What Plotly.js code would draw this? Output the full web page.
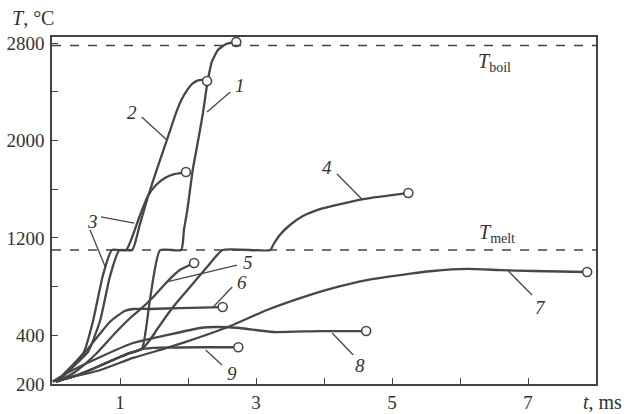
<!DOCTYPE html>
<html><head><meta charset="utf-8">
<script src="https://cdn.plot.ly/plotly-3.0.1.min.js"></script>
<style>html,body{margin:0;padding:0;background:#fff;} #chart{width:626px;height:414px;}</style>
</head><body><div id="chart"></div>
<script>
// time, ms and temperature, °C for curves 1..9
const t1 = [0.06,0.34,0.63,0.93,1.15,1.32,1.44,1.59,1.90,1.94,1.99,2.07,2.15,2.22,2.28,2.35,2.44,2.56,2.71];
const T1 = [20,66,131,205,255,287,690,1100,1100,1265,1429,1758,2004,2226,2456,2645,2743,2793,2809];
const t2 = [0.09,0.29,0.53,0.71,0.85,0.99,1.18,1.29,1.41,1.54,1.69,1.84,1.91,1.99,2.06,2.13,2.21,2.28];
const T2 = [20,131,263,526,879,1100,1100,1306,1536,1758,2004,2251,2341,2415,2464,2490,2497,2489];
const t3 = [0.06,0.26,0.47,0.60,0.75,0.88,1.09,1.19,1.29,1.41,1.53,1.66,1.81,1.97];
const T3 = [20,131,263,509,895,1100,1100,1224,1380,1544,1634,1692,1725,1741];
const t4 = [0.06,0.34,0.63,0.93,1.15,1.32,1.44,1.54,1.78,2.03,2.28,2.51,3.21,3.26,3.35,3.50,3.69,3.94,4.24,4.60,5.24];
const T4 = [20,66,131,205,255,287,361,444,632,797,961,1100,1100,1150,1224,1306,1380,1437,1478,1520,1569];
const t5 = [0.09,0.34,0.63,0.93,1.15,1.29,1.49,1.69,1.88,2.09];
const T5 = [20,99,238,419,542,608,715,838,936,994];
const t6 = [0.06,0.26,0.49,0.63,0.75,0.85,0.96,1.07,1.19,1.44,1.88,2.51];
const T6 = [20,115,263,361,444,509,559,600,616,616,624,632];
const t7 = [0.01,0.71,1.19,1.69,2.18,2.66,3.16,3.65,4.13,4.63,5.12,5.60,6.10,6.59,7.07,7.87];
const T7 = [20,115,214,296,386,485,608,706,788,854,895,928,945,936,928,920];
const t8 = [0.01,0.22,0.71,1.19,1.69,2.18,2.43,2.76,3.25,3.94,4.62];
const T8 = [20,90,222,337,402,460,468,460,427,435,435];
const t9 = [0.06,0.34,0.63,0.93,1.15,1.32,1.60,2.20,2.74];
const T9 = [20,66,131,205,255,287,298,302,302];

const T_boil = 2780;
const T_melt = 1100;

const xTickVals = [1,3,5,7];
const xTickText = ['1','3','5','7'];
const xMinorVals = [2,4,6];
const yTickVals = [0,400,1200,2000,2800];
const yTickText = ['200','400','1200','2000','2800'];
const yMinorVals = [800,1600,2400];

// curve labels: [text, textX, textY, leaderX0, leaderY0, leaderX1, leaderY1]
const labels = [
  ['1', 2.76, 2448, 2.62, 2398, 2.28, 2234],
  ['2', 1.18, 2226, 1.32, 2193, 1.69, 2004],
  ['3', 0.59, 1331, 0.72, 1372, 1.21, 1322],
  ['',  0.59, 1331, 0.56, 1265, 0.79, 953],
  ['4', 4.04, 1782, 4.19, 1725, 4.57, 1511],
  ['5', 2.88, 994, 2.72, 977, 1.69, 838],
  ['6', 2.79, 830, 2.65, 797, 2.37, 632],
  ['7', 7.18, 632, 7.06, 731, 6.71, 928],
  ['8', 4.53, 148, 4.43, 238, 4.12, 419],
  ['9', 2.65, 90, 2.50, 156, 2.26, 279]
];

const ts = [t1,t2,t3,t4,t5,t6,t7,t8,t9];
const Ts = [T1,T2,T3,T4,T5,T6,T7,T8,T9];
const lineColor = '#474747';
const serif = 'Liberation Serif, serif';

const traces = ts.map((tx, i) => ({
  x: tx, y: Ts[i], mode: 'lines', type: 'scatter',
  line: {color: lineColor, width: 2.3, shape: 'spline', smoothing: 0.5},
  hoverinfo: 'skip', showlegend: false
}));
traces.push({
  x: ts.map(a => a[a.length-1]), y: Ts.map(a => a[a.length-1]),
  mode: 'markers', type: 'scatter', showlegend: false, hoverinfo: 'skip',
  marker: {size: 9, color: '#ffffff', line: {color: lineColor, width: 1.6}}
});

const shapes = [
  {type:'line', xref:'paper', x0:0, x1:1, yref:'y', y0:T_boil, y1:T_boil, line:{color:'#444', width:1.6, dash:'dash'}},
  {type:'line', xref:'paper', x0:0, x1:1, yref:'y', y0:T_melt, y1:T_melt, line:{color:'#444', width:1.6, dash:'dash'}}
];
const annotations = [];
labels.forEach(l => {
  shapes.push({type:'line', xref:'x', yref:'y', x0:l[3], y0:l[4], x1:l[5], y1:l[6], line:{color:lineColor, width:1.3}});
  if (l[0]) annotations.push({x:l[1], y:l[2], xref:'x', yref:'y', text:'<i>'+l[0]+'</i>', showarrow:false,
    font:{family:serif, size:19, color:'#333'}});
});
annotations.push({x:6.51, y:2637, xref:'x', yref:'y', text:'<i>T</i><sub>boil</sub>', showarrow:false, font:{family:serif, size:20, color:'#333'}});
annotations.push({x:6.54, y:1240, xref:'x', yref:'y', text:'<i>T</i><sub>melt</sub>', showarrow:false, font:{family:serif, size:20, color:'#333'}});
annotations.push({x:-0.078, y:1.055, xref:'paper', yref:'paper', xanchor:'left', yanchor:'middle', text:'<i>T</i>, °C', showarrow:false, font:{family:serif, size:20, color:'#333'}});
annotations.push({x:0.972, y:-0.052, xref:'paper', yref:'paper', xanchor:'left', yanchor:'middle', text:'<i>t</i>, ms', showarrow:false, font:{family:serif, size:20, color:'#333'}});

const layout = {
  width: 626, height: 414,
  margin: {l:52, r:30, t:37, b:30},
  paper_bgcolor: '#ffffff', plot_bgcolor: '#ffffff',
  font: {family: serif, size: 19, color: '#333'},
  xaxis: {range:[0,8], tickmode:'array', tickvals:xTickVals, ticktext:xTickText, ticks:'inside', ticklen:6, tickcolor:'#444',
    minor:{tickmode:'array', tickvals:xMinorVals, ticks:'inside', ticklen:6, tickcolor:'#444', showgrid:false},
    showgrid:false, zeroline:false, showline:true, mirror:true, linecolor:'#444', linewidth:1.6, ticklabelstandoff:1},
  yaxis: {range:[0,2850], tickmode:'array', tickvals:yTickVals, ticktext:yTickText, ticks:'inside', ticklen:6, tickcolor:'#444',
    minor:{tickmode:'array', tickvals:yMinorVals, ticks:'inside', ticklen:6, tickcolor:'#444', showgrid:false},
    showgrid:false, zeroline:false, showline:true, mirror:true, linecolor:'#444', linewidth:1.6, ticklabelstandoff:2},
  shapes: shapes, annotations: annotations
};
Plotly.newPlot('chart', traces, layout, {staticPlot:true, displayModeBar:false});
</script></body></html>
